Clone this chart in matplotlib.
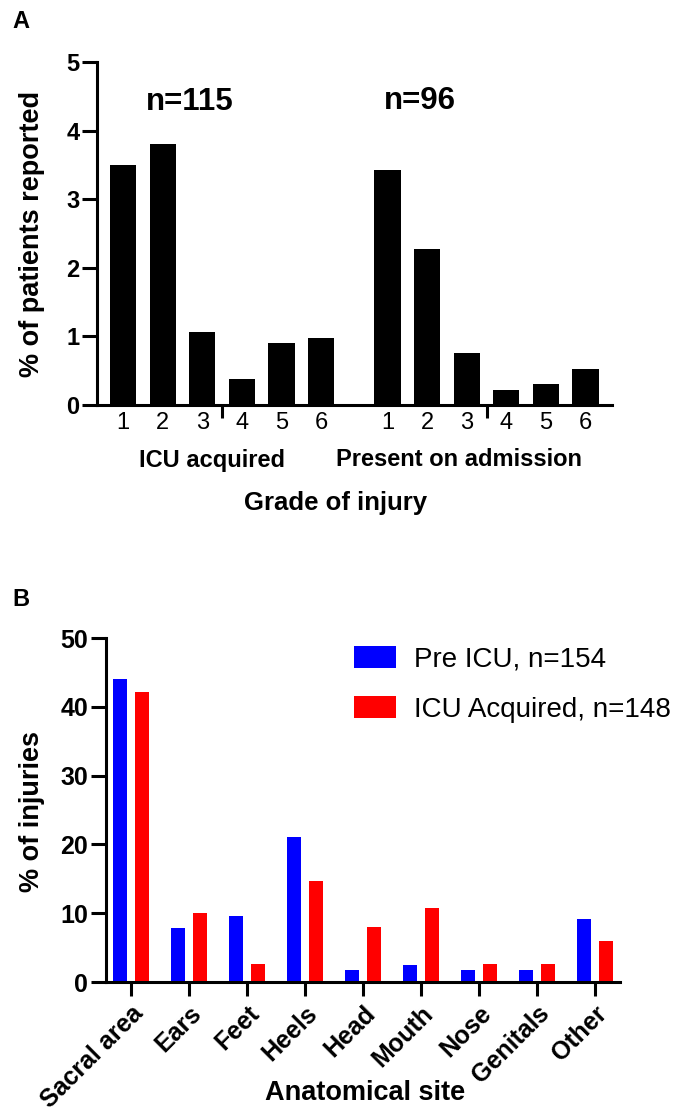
import matplotlib
matplotlib.use("Agg")
import matplotlib.pyplot as plt
from matplotlib.patches import Patch
import numpy as np

plt.rcParams['font.family'] = ['Liberation Sans', 'DejaVu Sans']

# Panel A data: % of patients reported by grade of injury
grades = ["1", "2", "3", "4", "5", "6"]
icu_acquired = [3.50, 3.80, 1.06, 0.38, 0.91, 0.98]
present_on_admission = [3.42, 2.28, 0.76, 0.22, 0.30, 0.53]
n_labels_a = ["n=115", "n=96"]
group_labels_a = ["ICU acquired", "Present on admission"]

# Panel B data: % of injuries by anatomical site
sites = ["Sacral area", "Ears", "Feet", "Heels", "Head", "Mouth", "Nose", "Genitals", "Other"]
pre_icu = [44.0, 7.8, 9.6, 21.1, 1.8, 2.4, 1.8, 1.8, 9.1]
icu_acq = [42.1, 10.0, 2.6, 14.7, 8.0, 10.7, 2.6, 2.6, 6.0]
legend_labels_b = ["Pre ICU, n=154", "ICU Acquired, n=148"]

W, H = 677, 1112
fig = plt.figure(figsize=(W / 100, H / 100), dpi=100)

def fx(px):
    return px / W

def fy(py):
    return 1 - py / H

LW = 2.2

# ---------------- Panel A ----------------
axA = fig.add_axes([fx(97), fy(405), fx(612) - fx(97), fy(62) - fy(405)])
gap = 1.68
xa1 = np.arange(len(grades))
xa2 = xa1 + len(grades) + gap - 1
axA.bar(xa1, icu_acquired, width=0.66, color="black")
axA.bar(xa2, present_on_admission, width=0.66, color="black")
axA.set_xlim(-0.66, 12.35)
axA.set_ylim(0, 5)
axA.set_yticks(range(0, 6))
axA.set_xticks(list(xa1) + list(xa2))
axA.set_xticklabels(grades + grades, fontsize=17)
axA.tick_params(axis="x", length=0, pad=5)
axA.set_xticks([2.5, 2.5 + len(grades) + gap - 1], minor=True)
axA.tick_params(axis="x", which="minor", length=9.5, width=LW, direction="out")
axA.tick_params(axis="y", length=10.5, width=LW, pad=2, labelsize=17)
for lab in axA.get_yticklabels():
    lab.set_fontweight("bold")
for s in ["top", "right"]:
    axA.spines[s].set_visible(False)
for s in ["left", "bottom"]:
    axA.spines[s].set_linewidth(LW)

axA.text(1.69, 4.42, n_labels_a[0], ha="center", va="center", fontsize=22.5, fontweight="bold")
axA.text(7.5, 4.43, n_labels_a[1], ha="center", va="center", fontsize=22.5, fontweight="bold")

fig.text(fx(212), fy(460), group_labels_a[0], ha="center", va="center", fontsize=17, fontweight="bold")
fig.text(fx(459), fy(460), group_labels_a[1], ha="center", va="center", fontsize=17, fontweight="bold")
fig.text(fx(336), fy(503), "Grade of injury", ha="center", va="center", fontsize=18.5, fontweight="bold")
fig.text(fx(32), fy(234), "% of patients reported", ha="center", va="center", rotation=90,
         fontsize=19.5, fontweight="bold")
fig.text(fx(21), fy(22), "A", ha="center", va="center", fontsize=17, fontweight="bold")

# ---------------- Panel B ----------------
axB = fig.add_axes([fx(106), fy(982), fx(620) - fx(106), fy(638) - fy(982)])
xb = np.arange(len(sites))
axB.bar(xb - 0.19, pre_icu, width=0.24, color="#0000FF")
axB.bar(xb + 0.19, icu_acq, width=0.24, color="#FF0000")
axB.set_xlim(-0.43, 8.43)
axB.set_ylim(0, 50)
axB.set_yticks(range(0, 51, 10))
axB.set_xticks(xb)
axB.set_xticklabels(sites, rotation=45, ha="right", rotation_mode="anchor",
                    fontsize=18, fontweight="bold")
axB.tick_params(axis="x", length=10, width=LW, pad=4)
axB.tick_params(axis="y", length=11, width=LW, pad=2, labelsize=18)
for lab in axB.get_yticklabels():
    lab.set_fontweight("bold")
for s in ["top", "right"]:
    axB.spines[s].set_visible(False)
for s in ["left", "bottom"]:
    axB.spines[s].set_linewidth(LW)

handles = [Patch(facecolor="#0000FF"), Patch(facecolor="#FF0000")]
axB.legend(handles, legend_labels_b, loc="upper left", bbox_to_anchor=(fx(354), fy(646)),
           bbox_transform=fig.transFigure, frameon=False, fontsize=20,
           handlelength=1.5, handleheight=0.85, handletextpad=0.65,
           labelspacing=0.85, borderpad=0, borderaxespad=0)

fig.text(fx(365), fy(1093), "Anatomical site", ha="center", va="center", fontsize=19.5, fontweight="bold")
fig.text(fx(32), fy(812), "% of injuries", ha="center", va="center", rotation=90,
         fontsize=19.5, fontweight="bold")
fig.text(fx(21), fy(600), "B", ha="center", va="center", fontsize=17, fontweight="bold")

fig.savefig("out.png", dpi=100)
